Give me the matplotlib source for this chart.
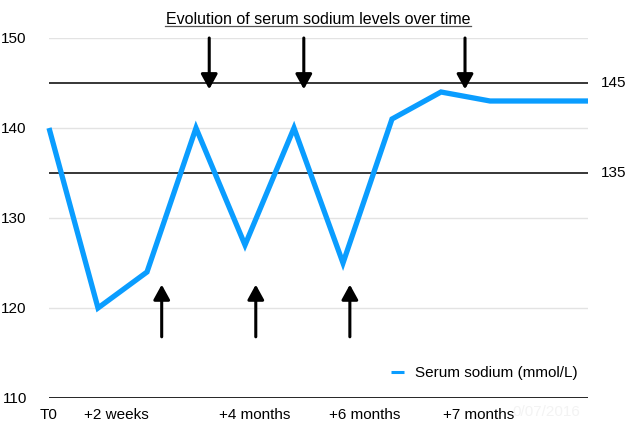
import matplotlib.pyplot as plt
import numpy as np

plt.rcParams['font.family'] = ['Liberation Sans', 'DejaVu Sans']

sodium = [140, 120, 124, 140, 127, 140, 125, 141, 144, 143, 143, 143]
tick_pos = [0, 1.37, 4.2, 6.45, 8.76]
tick_labels = ['T0', '+2 weeks', '+4 months', '+6 months', '+7 months']
limits = [135, 145]
down_arrows = [3.27, 5.2, 8.49]
up_arrows = [2.3, 4.22, 6.14]


def main():
    fig = plt.figure(figsize=(6.27, 4.23), dpi=100)
    ax = fig.add_axes([49/627, 1-398/423, 539/627, 360/423])
    x = np.arange(len(sodium))

    for y in [120, 130, 140, 150]:
        ax.axhline(y, color='#e3e3e3', lw=1, zorder=0)
    ax.axhline(110, color='black', lw=1.2, zorder=1)
    for y in limits:
        ax.axhline(y, color='black', lw=1.1, zorder=1)
        ax.text(1.024, y, str(y), transform=ax.get_yaxis_transform(),
                ha='left', va='center', fontsize=11)

    ax.plot(x, sodium, color='#0a9dff', lw=3.8, solid_joinstyle='miter',
            solid_capstyle='butt', label='Serum sodium (mmol/L)', zorder=3,
            clip_on=False)

    head = '-|>,head_length=0.6,head_width=0.33'
    for xa in down_arrows:
        ax.annotate('', xy=(xa, 144.3), xytext=(xa, 150),
                    arrowprops=dict(arrowstyle=head, lw=2.2, color='black',
                                    mutation_scale=15, shrinkA=0, shrinkB=0), zorder=4)
    for xa in up_arrows:
        ax.annotate('', xy=(xa, 122.6), xytext=(xa, 116.8),
                    arrowprops=dict(arrowstyle=head, lw=2.2, color='black',
                                    mutation_scale=15, shrinkA=0, shrinkB=0), zorder=4)

    ax.set_xlim(0, len(sodium)-1)
    ax.set_ylim(110, 150)
    ax.set_yticks([110, 120, 130, 140, 150])
    ax.set_xticks(tick_pos)
    ax.set_xticklabels(tick_labels)
    ax.tick_params(length=0, labelsize=11, pad=7)
    ax.tick_params(axis='y', pad=16)
    for s in ax.spines.values():
        s.set_visible(False)

    ax.text(9.45, 108.4, '0/07/2016', color='#f3f3f3', fontsize=11,
            ha='left', va='center', clip_on=False, zorder=0)

    leg = ax.legend(loc='center right', bbox_to_anchor=(0.995, 0.069), frameon=False,
                    handlelength=0.85, handletextpad=0.7, fontsize=11, borderpad=0)
    leg.get_lines()[0].set_linewidth(2.2)

    fig.text(318/627, 1-19/423, 'Evolution of serum sodium levels over time',
             ha='center', va='center', fontsize=11.5)
    fig.add_artist(plt.Line2D([165/627, 471/627], [1-26/423, 1-26/423],
                              color='#555555', lw=0.9))
    fig.savefig('out.png', dpi=100)


if __name__ == '__main__':
    main()
